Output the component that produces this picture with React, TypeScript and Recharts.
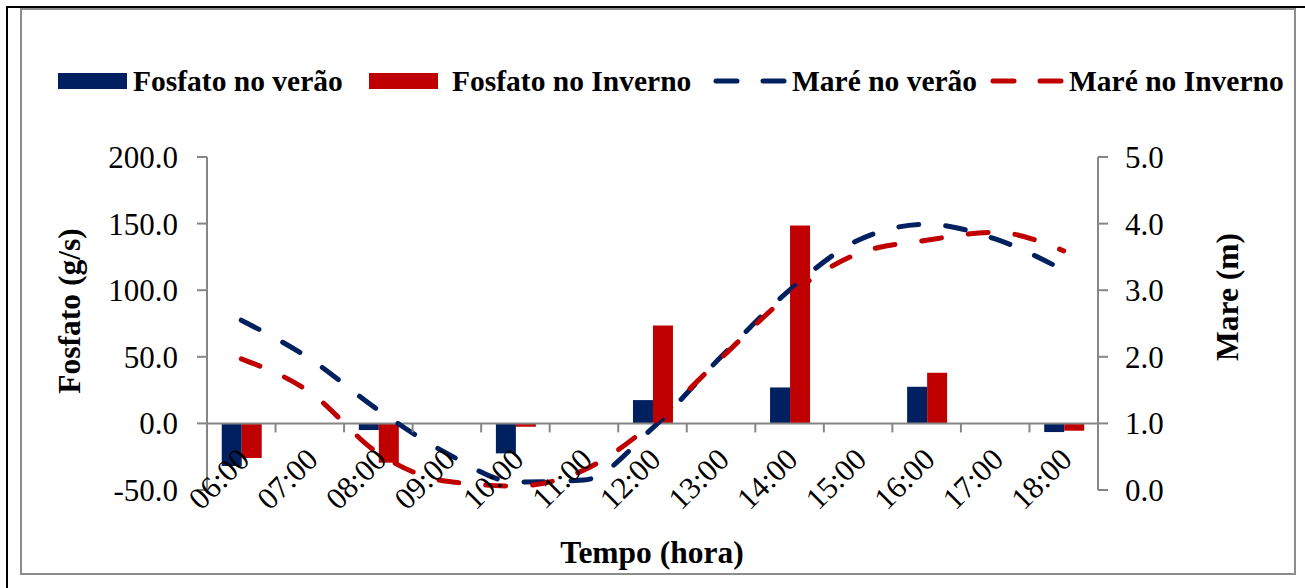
import React from "react";
import {
  Bar,
  ComposedChart,
  Legend,
  Line,
  ReferenceLine,
  XAxis,
  YAxis,
} from "recharts";

// 时间刻度与数值
const HOURS = [
  "06:00", "07:00", "08:00", "09:00", "10:00", "11:00", "12:00",
  "13:00", "14:00", "15:00", "16:00", "17:00", "18:00",
];
const FOSFATO_VERAO = [-32, null, -5, null, -22.5, null, 17.5, null, 27, null, 27.5, null, -6.5];
const FOSFATO_INVERNO = [-26, null, -29.5, null, -2.5, null, 73.5, null, 148.5, null, 38, null, -5.5];
const MARE_VERAO = [2.55, 1.97, 1.2, 0.55, 0.12, 0.15, 0.93, 2.0, 3.0, 3.75, 3.99, 3.77, 3.3];
const MARE_INVERNO = [1.97, 1.47, 0.55, 0.13, 0.06, 0.3, 1.0, 1.98, 2.93, 3.55, 3.75, 3.87, 3.59];
const LEFT_TICKS = [-50, 0, 50, 100, 150, 200];
const RIGHT_TICKS = [0, 1, 2, 3, 4, 5];

const NAVY = "#002060";
const RED = "#C00000";
const GRAY = "#868686";
const FONT = "'Liberation Serif', 'Times New Roman', serif";

const W = 1305;
const H = 588;
const PLOT_LEFT = 207;
const PLOT_RIGHT = 1098;
const PLOT_TOP = 157;
const PLOT_BOTTOM = 490;
const ZERO_Y =
  PLOT_TOP +
  ((PLOT_BOTTOM - PLOT_TOP) * LEFT_TICKS[LEFT_TICKS.length - 1]) /
    (LEFT_TICKS[LEFT_TICKS.length - 1] - LEFT_TICKS[0]);
const BAND = (PLOT_RIGHT - PLOT_LEFT) / HOURS.length;

const chartData = HOURS.map((h, i) => ({
  hora: h,
  fv: FOSFATO_VERAO[i],
  fi: FOSFATO_INVERNO[i],
  mv: MARE_VERAO[i],
  mi: MARE_INVERNO[i],
}));

const LEGEND = [
  { name: "Fosfato no verão", color: NAVY, kind: "bar", left: 58, gap: 6 },
  { name: "Fosfato no Inverno", color: RED, kind: "bar", left: 369, gap: 14 },
  { name: "Maré no verão", color: NAVY, kind: "line", left: 713, gap: 1 },
  { name: "Maré no Inverno", color: RED, kind: "line", left: 990, gap: 1 },
];

function LegendBox() {
  return (
    <div style={{ position: "relative", width: W, height: 36, fontFamily: FONT }}>
      {LEGEND.map((item) => (
        <div
          key={item.name}
          style={{
            position: "absolute",
            left: item.left,
            top: 0,
            height: 36,
            display: "flex",
            alignItems: "center",
            whiteSpace: "nowrap",
          }}
        >
          {item.kind === "bar" ? (
            <div style={{ width: 69, height: 16, background: item.color, marginRight: item.gap }} />
          ) : (
            <svg width={78} height={16} style={{ marginRight: item.gap }}>
              <line
                x1={3}
                y1={8}
                x2={76}
                y2={8}
                stroke={item.color}
                strokeWidth={5}
                strokeLinecap="round"
                strokeDasharray="21 26"
              />
            </svg>
          )}
          <span style={{ fontSize: 29.5, fontWeight: "bold", color: "#000" }}>{item.name}</span>
        </div>
      ))}
    </div>
  );
}

function HourTick(props: any) {
  const { x, payload } = props;
  const bx = x - BAND / 2;
  const ax = x + 10;
  const ay = ZERO_Y + 38;
  return (
    <g>
      <line x1={bx} x2={bx} y1={ZERO_Y} y2={ZERO_Y + 9} stroke={GRAY} strokeWidth={2} />
      <text
        x={ax}
        y={ay}
        transform={`rotate(-45 ${ax} ${ay})`}
        textAnchor="end"
        fontFamily={FONT}
        fontSize={31}
        fill="#000"
      >
        {payload.value}
      </text>
    </g>
  );
}

function AxisTitle(props: any) {
  const { cx, cy, text, vertical } = props;
  return (
    <text
      x={cx}
      y={cy}
      transform={vertical ? `rotate(-90 ${cx} ${cy})` : undefined}
      textAnchor="middle"
      dominantBaseline="central"
      fontFamily={FONT}
      fontSize={31.5}
      fontWeight="bold"
      fill="#000"
    >
      {text}
    </text>
  );
}

const tickStyle = { fontFamily: FONT, fontSize: 31, fill: "#000" };

export default function App() {
  return (
    <div style={{ position: "absolute", left: 0, top: 0, width: W, height: H, background: "#fff" }}>
      <div
        style={{
          position: "absolute",
          left: 6,
          top: 6,
          width: W - 6,
          height: H - 6,
          borderTop: "2px solid #000",
          borderLeft: "2px solid #000",
          boxSizing: "border-box",
        }}
      />
      <div
        style={{
          position: "absolute",
          left: 20,
          top: 8,
          width: 1276,
          height: 567,
          border: "2px solid #8c8c8c",
          boxSizing: "border-box",
        }}
      />
      <div style={{ position: "absolute", left: 0, top: 0 }}>
        <ComposedChart
          width={W}
          height={H}
          data={chartData}
          margin={{ top: PLOT_TOP, right: 0, bottom: 0, left: 0 }}
          barCategoryGap="21.5%"
          barGap={0}
        >
          <XAxis
            dataKey="hora"
            height={H - PLOT_BOTTOM}
            axisLine={false}
            tickLine={false}
            interval={0}
            tick={<HourTick />}
            label={<AxisTitle cx={652} cy={552} text="Tempo (hora)" />}
          />
          <YAxis
            yAxisId="left"
            width={PLOT_LEFT}
            domain={[LEFT_TICKS[0], LEFT_TICKS[LEFT_TICKS.length - 1]]}
            ticks={LEFT_TICKS}
            tickFormatter={(v: number) => v.toFixed(1)}
            tick={tickStyle}
            tickSize={10}
            tickMargin={19}
            axisLine={{ stroke: GRAY, strokeWidth: 2 }}
            tickLine={{ stroke: GRAY, strokeWidth: 2 }}
            label={<AxisTitle cx={69} cy={311} vertical text="Fosfato (g/s)" />}
          />
          <YAxis
            yAxisId="right"
            orientation="right"
            width={W - PLOT_RIGHT}
            domain={[RIGHT_TICKS[0], RIGHT_TICKS[RIGHT_TICKS.length - 1]]}
            ticks={RIGHT_TICKS}
            tickFormatter={(v: number) => v.toFixed(1)}
            tick={tickStyle}
            tickSize={10}
            tickMargin={17}
            axisLine={{ stroke: GRAY, strokeWidth: 2 }}
            tickLine={{ stroke: GRAY, strokeWidth: 2 }}
            label={<AxisTitle cx={1227} cy={297} vertical text="Mare (m)" />}
          />
          <Legend
            layout="vertical"
            align="center"
            verticalAlign="middle"
            wrapperStyle={{ top: 63, left: 0, width: W }}
            content={() => <LegendBox />}
          />
          <Bar yAxisId="left" dataKey="fv" name="Fosfato no verão" fill={NAVY} isAnimationActive={false} />
          <Bar yAxisId="left" dataKey="fi" name="Fosfato no Inverno" fill={RED} isAnimationActive={false} />
          <ReferenceLine yAxisId="left" y={0} stroke={GRAY} strokeWidth={2} />
          <Line
            yAxisId="right"
            type="monotone"
            dataKey="mv"
            name="Maré no verão"
            stroke={NAVY}
            strokeWidth={5}
            strokeLinecap="round"
            strokeDasharray="20 27"
            dot={false}
            isAnimationActive={false}
          />
          <Line
            yAxisId="right"
            type="monotone"
            dataKey="mi"
            name="Maré no Inverno"
            stroke={RED}
            strokeWidth={5}
            strokeLinecap="round"
            strokeDasharray="20 27"
            dot={false}
            isAnimationActive={false}
          />
        </ComposedChart>
      </div>
    </div>
  );
}
